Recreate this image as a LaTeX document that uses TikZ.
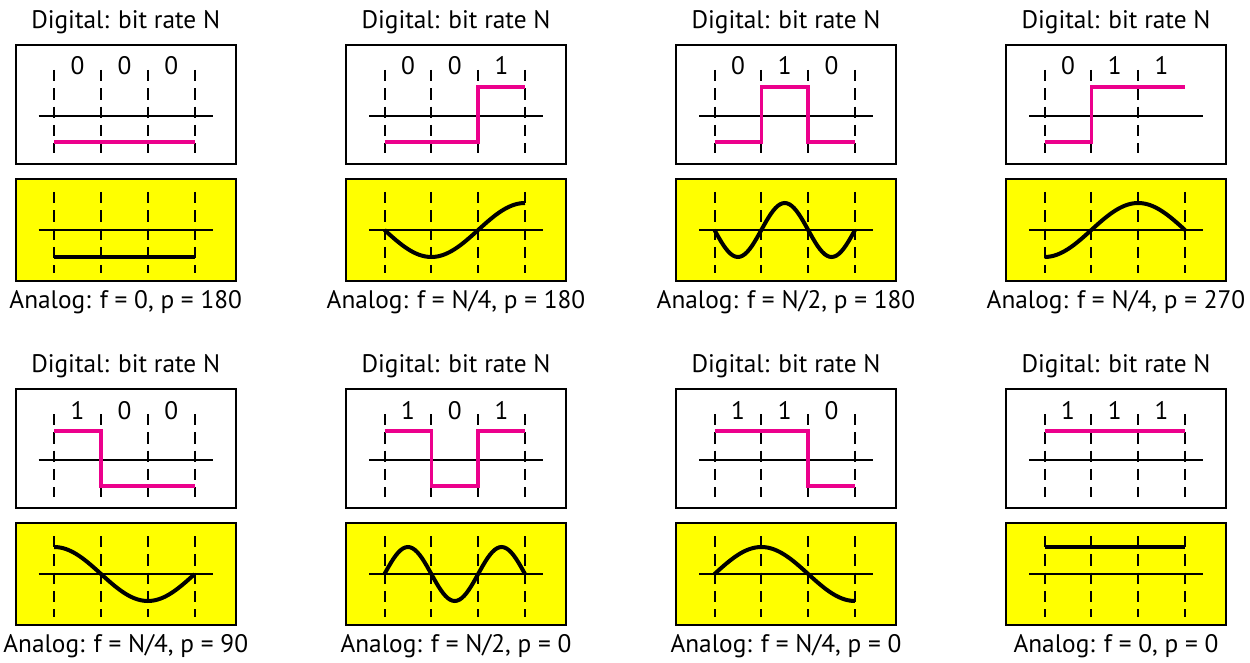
\documentclass[tikz,border=0pt]{standalone}
\usepackage{fontspec}
\setmainfont{PT Sans}
\definecolor{Wave}{HTML}{EC008C}
\definecolor{Lemon}{HTML}{FFFF00}
\tikzset{
  digibox/.style={draw=black, line width=1.5pt, fill=white},
  anabox/.style={draw=black, line width=1.5pt, fill=Lemon},
  axisline/.style={draw=black, line width=1.1pt},
  guide/.style={draw=black, line width=1.5pt, dash pattern=on 8.5pt off 5.2pt},
  digiwave/.style={draw=Wave, line width=2.6pt},
  anawave/.style={draw=black, line width=3pt},
  title/.style={anchor=base, inner sep=0pt, font=\fontsize{19pt}{22pt}\selectfont},
  caption/.style={anchor=base, inner sep=0pt, font=\fontsize{19pt}{22pt}\selectfont},
  bitlabel/.style={anchor=base, inner sep=0pt, font=\fontsize{19pt}{22pt}\selectfont}
}

\begin{document}
\begin{tikzpicture}[x=0.75pt,y=-0.75pt]
  \useasboundingbox (0,0) rectangle (1250,663);
  % one panel per bit pattern: digital box over analog box
  \foreach \n/\px/\py/\bits/\last/\fn/\cap in {
      1/15.7/0/{0,0,0}/3/{-1}/{Analog: f = 0, p = 180},
      2/346/0/{0,0,1}/3/{-sin(90*\x)}/{Analog: f = N/4, p = 180},
      3/676/0/{0,1,0}/3/{-sin(180*\x)}/{Analog: f = N/2, p = 180},
      4/1006/0/{0,1,1}/2/{-cos(90*\x)}/{Analog: f = N/4, p = 270},
      5/15.7/344/{1,0,0}/3/{cos(90*\x)}/{Analog: f = N/4, p = 90},
      6/346/344/{1,0,1}/3/{sin(180*\x)}/{Analog: f = N/2, p = 0},
      7/676/344/{1,1,0}/3/{sin(90*\x)}/{Analog: f = N/4, p = 0},
      8/1006/344/{1,1,1}/3/{1}/{Analog: f = 0, p = 0}}{
    \begin{scope}[shift={(\px,\py)}]
      \node[title] (title\n) at (110,28.3) {Digital: bit rate N};
      \draw[digibox] (0,45) rectangle (220,164);
      \draw[anabox] (0,179) rectangle (220,281);
      \draw[axisline] (23,116) -- (197,116);
      \draw[axisline] (23,230) -- (197,230);
      \foreach \k in {0,...,\last}
        \draw[guide] ({38.5+46.83*\k},70) -- ++(0,83);
      \foreach \k in {0,...,3}
        \draw[guide] ({38.5+46.83*\k},192) -- ++(0,81);
      \foreach \b [count=\i] in \bits
        \node[bitlabel] (bit\n-\i) at ({15.1+46.83*\i},75) {\b};
      % digital levels: 1 high, 0 low
      \draw[digiwave] (38.5,{142-55*{\bits}[0]})
        \foreach \b [count=\i] in \bits {
          -- ({38.5+46.83*(\i-1)},{142-55*\b}) -- ({38.5+46.83*\i},{142-55*\b})};
      \draw[anawave] plot[domain=0:3, samples=61] ({38.5+46.83*\x},{230-27*(\fn)});
      \node[caption] (cap\n) at (110,308.3) {\cap};
    \end{scope}
  }
\end{tikzpicture}
\end{document}
